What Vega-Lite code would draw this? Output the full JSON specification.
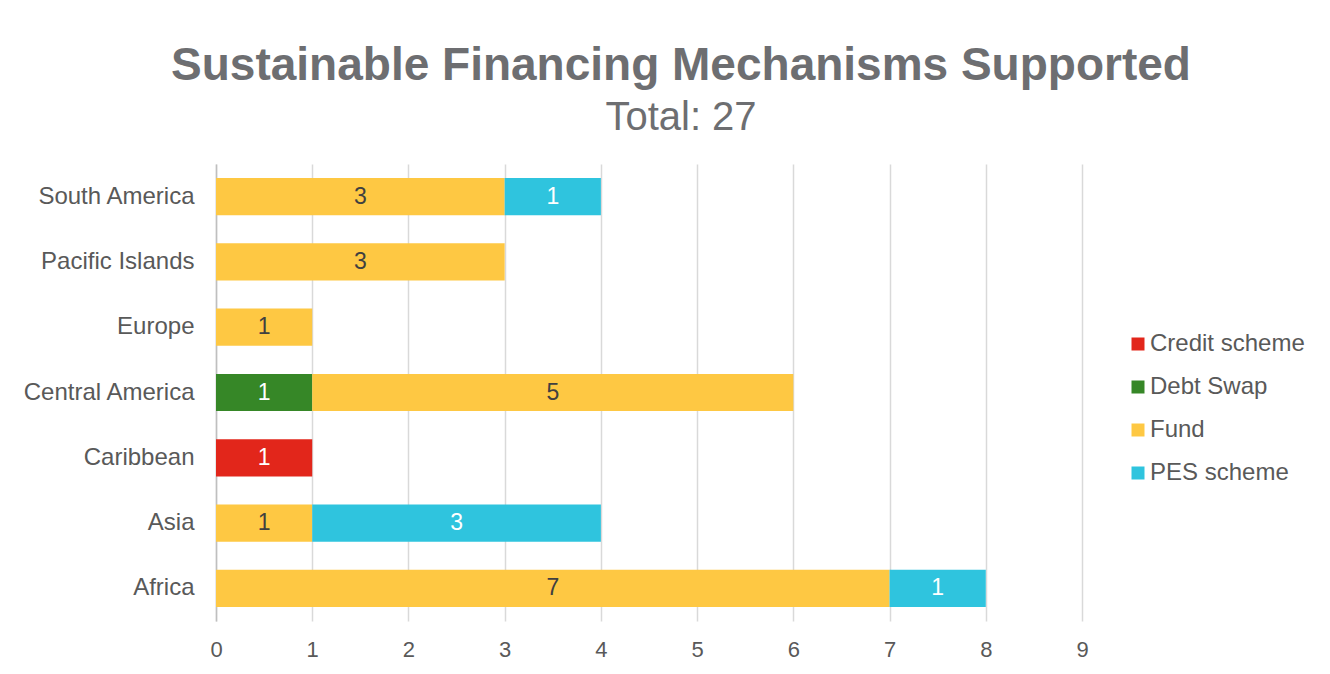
{
  "$schema": "https://vega.github.io/schema/vega-lite/v6.json",
  "width": 866,
  "height": 457,
  "autosize": {"type": "none"},
  "padding": {"left": 216, "top": 164, "right": 248, "bottom": 53},
  "background": "white",
  "config": {"view": {"stroke": null}},
  "title": {
    "text": "Sustainable Financing Mechanisms Supported",
    "subtitle": "Total: 27",
    "anchor": "middle",
    "frame": "group",
    "dx": 32,
    "offset": 25,
    "font": "Liberation Sans",
    "fontSize": 46,
    "fontWeight": "bold",
    "color": "#6D6E71",
    "subtitleFont": "Liberation Sans",
    "subtitleFontSize": 40,
    "subtitleColor": "#6D6E71",
    "subtitlePadding": 8
  },
  "data": {
    "values": [
      {"region": "South America", "type": "Fund", "count": 3},
      {"region": "South America", "type": "PES scheme", "count": 1},
      {"region": "Pacific Islands", "type": "Fund", "count": 3},
      {"region": "Europe", "type": "Fund", "count": 1},
      {"region": "Central America", "type": "Debt Swap", "count": 1},
      {"region": "Central America", "type": "Fund", "count": 5},
      {"region": "Caribbean", "type": "Credit scheme", "count": 1},
      {"region": "Asia", "type": "Fund", "count": 1},
      {"region": "Asia", "type": "PES scheme", "count": 3},
      {"region": "Africa", "type": "Fund", "count": 7},
      {"region": "Africa", "type": "PES scheme", "count": 1}
    ]
  },
  "encoding": {
    "y": {
      "field": "region",
      "type": "nominal",
      "sort": ["South America", "Pacific Islands", "Europe", "Central America", "Caribbean", "Asia", "Africa"],
      "scale": {"paddingInner": 0.43, "paddingOuter": 0.215},
      "axis": {
        "title": null,
        "ticks": false,
        "grid": false,
        "domain": true,
        "domainColor": "#BFBFBF",
        "domainWidth": 1.5,
        "labelFont": "Liberation Sans",
        "labelFontSize": 24,
        "labelColor": "#595959",
        "labelPadding": 22
      }
    },
    "x": {
      "field": "count",
      "type": "quantitative",
      "stack": "zero",
      "scale": {"domain": [0, 9], "nice": false},
      "axis": {
        "title": null,
        "values": [0, 1, 2, 3, 4, 5, 6, 7, 8, 9],
        "ticks": false,
        "domain": false,
        "grid": true,
        "gridColor": "#D9D9D9",
        "gridWidth": 1.5,
        "labelFlush": false,
        "labelFont": "Liberation Sans",
        "labelFontSize": 22,
        "labelColor": "#595959",
        "labelPadding": 18
      }
    },
    "order": {"field": "type", "sort": "ascending"}
  },
  "layer": [
    {
      "mark": {"type": "bar"},
      "encoding": {
        "color": {
          "field": "type",
          "type": "nominal",
          "scale": {
            "domain": ["Credit scheme", "Debt Swap", "Fund", "PES scheme"],
            "range": ["#E2261B", "#368727", "#FEC843", "#2FC4DE"]
          },
          "legend": {
            "title": null,
            "orient": "none",
            "legendX": 910,
            "legendY": 168,
            "symbolType": "square",
            "symbolSize": 169,
            "symbolStrokeWidth": 0,
            "labelFont": "Liberation Sans",
            "labelFontSize": 24,
            "labelColor": "#595959",
            "labelOffset": 0,
            "rowPadding": 19
          }
        }
      }
    },
    {
      "mark": {"type": "text", "font": "Liberation Sans", "fontSize": 23, "align": "center", "baseline": "middle"},
      "encoding": {
        "x": {
          "field": "count",
          "type": "quantitative",
          "stack": "zero",
          "bandPosition": 0.5,
          "scale": {"domain": [0, 9], "nice": false},
          "axis": {
            "title": null,
            "values": [0, 1, 2, 3, 4, 5, 6, 7, 8, 9],
            "ticks": false,
            "domain": false,
            "grid": true,
            "gridColor": "#D9D9D9",
            "gridWidth": 1.5,
            "labelFlush": false,
            "labelFont": "Liberation Sans",
            "labelFontSize": 22,
            "labelColor": "#595959",
            "labelPadding": 18
          }
        },
        "detail": {"field": "type"},
        "text": {"field": "count", "type": "quantitative"},
        "color": {
          "condition": {"test": "datum.type === 'Fund'", "value": "#404040"},
          "value": "#FFFFFF"
        }
      }
    }
  ]
}
